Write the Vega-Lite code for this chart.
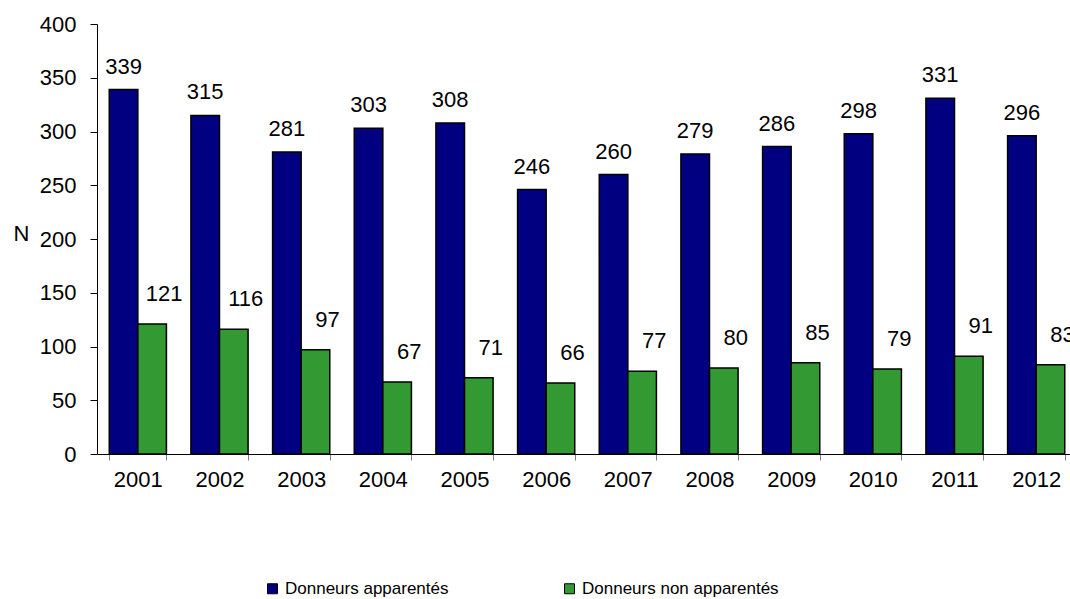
{
  "$schema": "https://vega.github.io/schema/vega-lite/v6.json",
  "autosize": {"type": "none"},
  "padding": {"left": 97, "top": 24, "right": 0, "bottom": 145},
  "width": 980,
  "height": 430,
  "background": "white",
  "config": {
    "font": "Liberation Sans",
    "view": {"stroke": null},
    "axis": {"grid": false, "domainColor": "black", "labelColor": "black", "titleColor": "black", "labelFont": "Liberation Sans", "titleFont": "Liberation Sans"}
  },
  "data": {
    "values": [
      {"year": "2001", "serie": "Donneurs apparentés", "n": 339},
      {"year": "2002", "serie": "Donneurs apparentés", "n": 315},
      {"year": "2003", "serie": "Donneurs apparentés", "n": 281},
      {"year": "2004", "serie": "Donneurs apparentés", "n": 303},
      {"year": "2005", "serie": "Donneurs apparentés", "n": 308},
      {"year": "2006", "serie": "Donneurs apparentés", "n": 246},
      {"year": "2007", "serie": "Donneurs apparentés", "n": 260},
      {"year": "2008", "serie": "Donneurs apparentés", "n": 279},
      {"year": "2009", "serie": "Donneurs apparentés", "n": 286},
      {"year": "2010", "serie": "Donneurs apparentés", "n": 298},
      {"year": "2011", "serie": "Donneurs apparentés", "n": 331},
      {"year": "2012", "serie": "Donneurs apparentés", "n": 296},
      {"year": "2001", "serie": "Donneurs non apparentés", "n": 121},
      {"year": "2002", "serie": "Donneurs non apparentés", "n": 116},
      {"year": "2003", "serie": "Donneurs non apparentés", "n": 97},
      {"year": "2004", "serie": "Donneurs non apparentés", "n": 67},
      {"year": "2005", "serie": "Donneurs non apparentés", "n": 71},
      {"year": "2006", "serie": "Donneurs non apparentés", "n": 66},
      {"year": "2007", "serie": "Donneurs non apparentés", "n": 77},
      {"year": "2008", "serie": "Donneurs non apparentés", "n": 80},
      {"year": "2009", "serie": "Donneurs non apparentés", "n": 85},
      {"year": "2010", "serie": "Donneurs non apparentés", "n": 79},
      {"year": "2011", "serie": "Donneurs non apparentés", "n": 91},
      {"year": "2012", "serie": "Donneurs non apparentés", "n": 83}
    ]
  },
  "encoding": {
    "x": {
      "field": "year", "type": "nominal",
      "scale": {"paddingInner": 0.3, "paddingOuter": 0.15},
      "axis": {"title": null, "labelAngle": 0, "labelFontSize": 22, "labelPadding": 9, "tickSize": 6, "tickColor": "#808080", "tickBand": "extent", "domainColor": "black", "domainWidth": 1}
    },
    "xOffset": {"field": "serie", "type": "nominal", "sort": ["Donneurs apparentés", "Donneurs non apparentés"], "scale": {"paddingInner": 0, "paddingOuter": 0}},
    "y": {
      "field": "n", "type": "quantitative",
      "scale": {"domain": [0, 400], "nice": false},
      "axis": {"values": [0, 50, 100, 150, 200, 250, 300, 350, 400], "title": "N", "titleAngle": 0, "titleFontSize": 22, "titleFontWeight": "normal", "titleX": -76, "titleY": 209, "titleAlign": "center", "titleBaseline": "middle", "labelFontSize": 22, "labelPadding": 14, "tickSize": 7, "tickColor": "black", "domainColor": "black"}
    }
  },
  "layer": [
    {
      "mark": {"type": "bar", "stroke": "black", "strokeWidth": 1.5},
      "encoding": {
        "color": {
          "field": "serie", "type": "nominal",
          "scale": {"domain": ["Donneurs apparentés", "Donneurs non apparentés"], "range": ["#000080", "#339933"]},
          "legend": {"title": null, "orient": "none", "legendX": 167, "legendY": 556, "direction": "horizontal", "columns": 2, "columnPadding": 112, "symbolType": "square", "symbolSize": 100, "symbolStrokeColor": "black", "symbolStrokeWidth": 1, "symbolOpacity": 1, "labelFontSize": 17, "labelColor": "black", "labelOffset": 4, "labelLimit": 300, "padding": 0}
        }
      }
    },
    {
      "transform": [{"filter": "datum.serie === 'Donneurs apparentés'"}],
      "mark": {"type": "text", "fontSize": 22, "baseline": "alphabetic", "align": "center", "dy": -16, "color": "black"},
      "encoding": {"text": {"field": "n", "type": "quantitative"}}
    },
    {
      "transform": [{"filter": "datum.serie === 'Donneurs non apparentés'"}],
      "mark": {"type": "text", "fontSize": 22, "baseline": "alphabetic", "align": "center", "dx": 12, "dy": -23, "color": "black"},
      "encoding": {"text": {"field": "n", "type": "quantitative"}}
    }
  ]
}
